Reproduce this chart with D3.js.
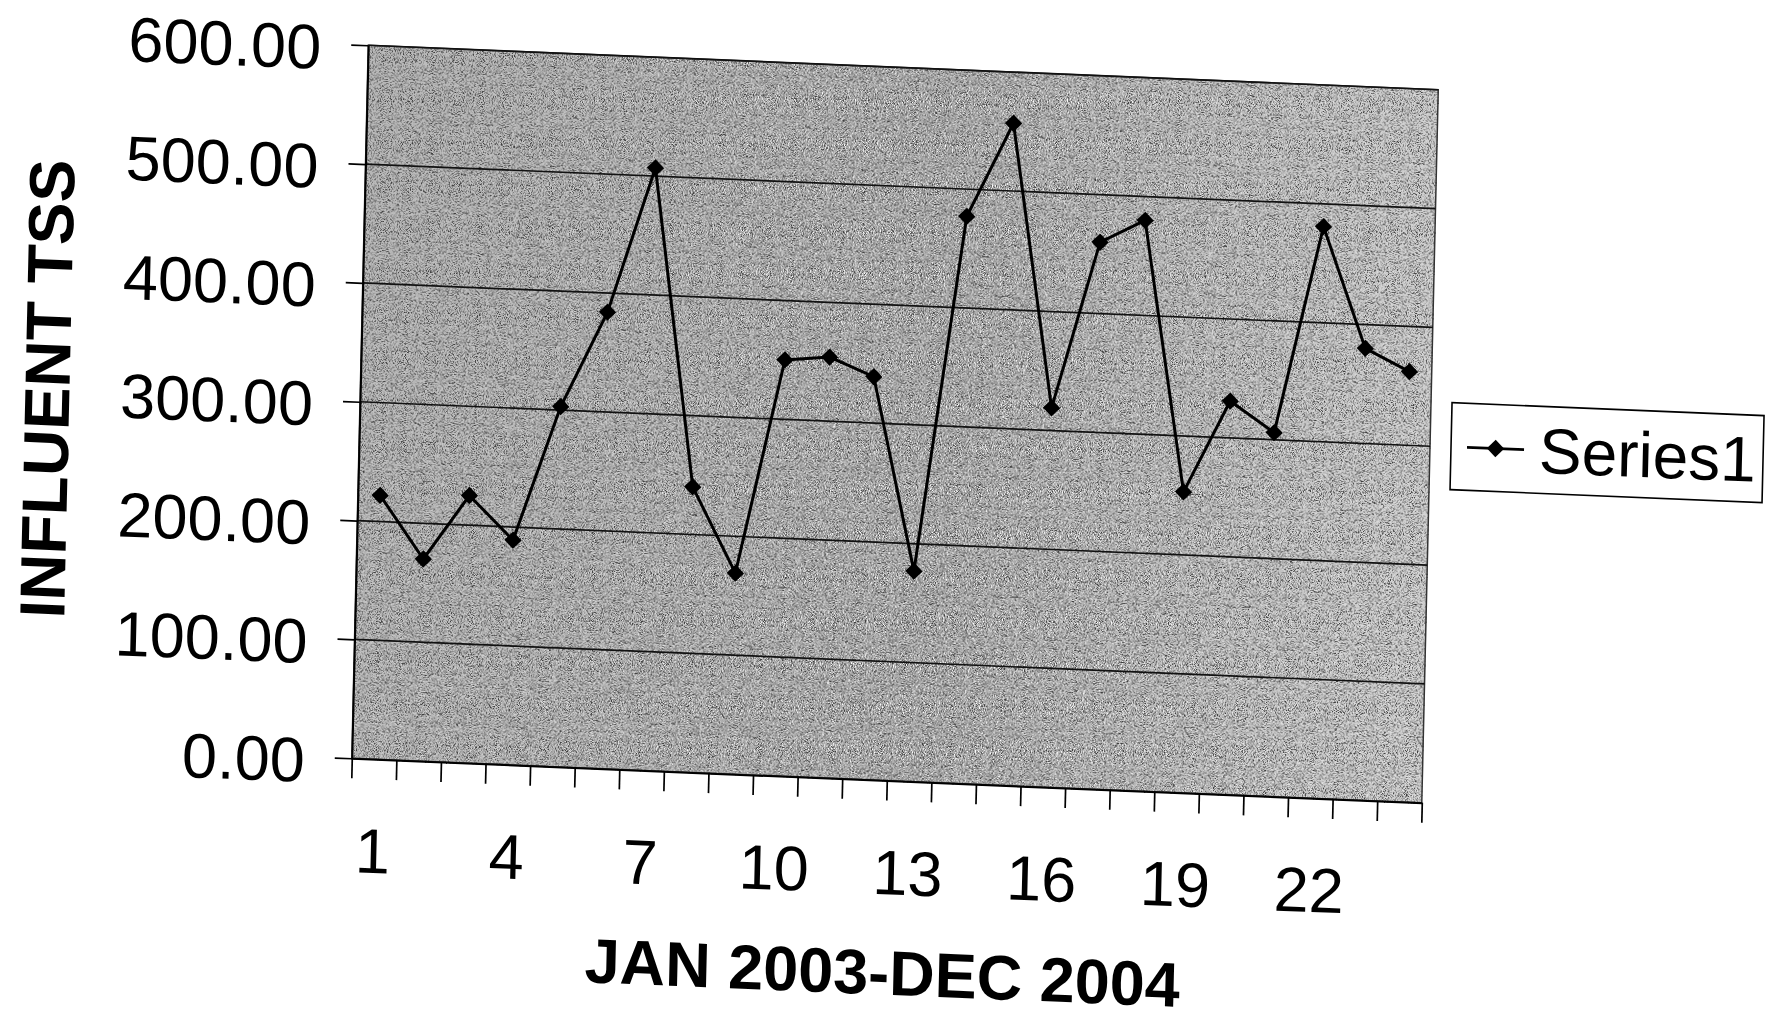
<!DOCTYPE html>
<html>
<head>
<meta charset="utf-8">
<script src="https://cdn.jsdelivr.net/npm/d3@7/dist/d3.min.js"></script>
<style>
  html, body { margin: 0; padding: 0; background: #ffffff; }
  svg { display: block; }
  text { font-family: "Liberation Sans", Arial, Helvetica, sans-serif; fill: #000; }
</style>
</head>
<body>
<svg id="chart" width="1766" height="1022"></svg>
<script>
// ---- data ----
const months = [1, 2, 3, 4, 5, 6, 7, 8, 9, 10, 11, 12, 13, 14, 15, 16, 17, 18, 19, 20, 21, 22, 23, 24];
const influentTSS = [222, 170, 225, 189, 303, 384, 507, 240, 169, 350, 354, 339, 177, 477, 557, 319, 460, 480, 253, 331, 306, 481, 380, 362];
const xTickLabels = [1, 4, 7, 10, 13, 16, 19, 22];
const yTickValues = [0, 100, 200, 300, 400, 500, 600];
const seriesName = "Series1";
const xTitle = "JAN 2003-DEC 2004";
const yTitle = "INFLUENT TSS";

// ---- layout ----
const W = 1070, H = 713;
const svg = d3.select("#chart");

const defs = svg.append("defs");
const grad = defs.append("linearGradient").attr("id", "plotShade")
  .attr("x1", 0).attr("y1", 0).attr("x2", 1).attr("y2", 0);
grad.append("stop").attr("offset", "0%").attr("stop-color", "#b4b4b4");
grad.append("stop").attr("offset", "55%").attr("stop-color", "#acacac");
grad.append("stop").attr("offset", "100%").attr("stop-color", "#cccccc");

const fDark = defs.append("filter").attr("id", "grainDark")
  .attr("filterUnits", "objectBoundingBox").attr("x", 0).attr("y", 0).attr("width", 1).attr("height", 1);
fDark.append("feTurbulence").attr("type", "fractalNoise").attr("baseFrequency", 1.1)
  .attr("numOctaves", 1).attr("seed", 7);
fDark.append("feColorMatrix").attr("type", "matrix")
  .attr("values", "0 0 0 0 0.05  0 0 0 0 0.05  0 0 0 0 0.05  4.5 0 0 0 -2.1");

const fLight = defs.append("filter").attr("id", "grainLight")
  .attr("filterUnits", "objectBoundingBox").attr("x", 0).attr("y", 0).attr("width", 1).attr("height", 1);
fLight.append("feTurbulence").attr("type", "fractalNoise").attr("baseFrequency", 1.0)
  .attr("numOctaves", 1).attr("seed", 23);
fLight.append("feColorMatrix").attr("type", "matrix")
  .attr("values", "0 0 0 0 1  0 0 0 0 1  0 0 0 0 1  -4.5 0 0 0 2.3");

// the scanned page is slightly rotated/skewed
const g = svg.append("g").attr("transform", "matrix(1,0.0416,-0.0231,1,368.25,45.25)");

const x = d3.scaleLinear().domain([0.5, 24.5]).range([0, W]);
const y = d3.scaleLinear().domain([0, 600]).range([H, 0]);

// plot area
g.append("rect").attr("x", 0).attr("y", 0).attr("width", W).attr("height", H).attr("fill", "url(#plotShade)");
g.append("rect").attr("x", 0).attr("y", 0).attr("width", W).attr("height", H).attr("filter", "url(#grainLight)");
g.append("rect").attr("x", 0).attr("y", 0).attr("width", W).attr("height", H).attr("filter", "url(#grainDark)");
g.append("rect").attr("x", 0).attr("y", 0).attr("width", W).attr("height", H)
  .attr("fill", "none").attr("stroke", "#333").attr("stroke-width", 1.5);

// gridlines
g.append("g").selectAll("line").data(yTickValues.filter(v => v > 0)).join("line")
  .attr("x1", 0).attr("x2", W)
  .attr("y1", d => y(d)).attr("y2", d => y(d))
  .attr("stroke", "#111").attr("stroke-width", 1.7);

// y axis
const yAxis = g.append("g")
  .call(d3.axisLeft(y).tickValues(yTickValues).tickFormat(d3.format(".2f"))
    .tickSize(17).tickSizeOuter(0).tickPadding(30));
yAxis.selectAll("text").attr("font-size", 63).attr("dy", "0.4em")
  .attr("font-family", "Liberation Sans, Arial, sans-serif").attr("fill", "#000");
yAxis.selectAll("line").attr("stroke", "#000").attr("stroke-width", 1.7);
yAxis.select(".domain").attr("stroke", "#000").attr("stroke-width", 2);

// x axis tick marks at category boundaries
const boundaries = [0.5].concat(months.map(m => m + 0.5));
const xAxis = g.append("g").attr("transform", `translate(0,${H})`)
  .call(d3.axisBottom(x).tickValues(boundaries).tickFormat("").tickSize(20).tickSizeOuter(0));
xAxis.selectAll("line").attr("stroke", "#000").attr("stroke-width", 1.7);
xAxis.select(".domain").attr("stroke", "#000").attr("stroke-width", 2);

// x axis labels every third category
const xLab = g.append("g").attr("transform", `translate(0,${H})`)
  .call(d3.axisBottom(x).tickValues(xTickLabels).tickFormat(d3.format("d")).tickSize(0).tickPadding(69));
xLab.select(".domain").remove();
xLab.selectAll("text").attr("font-size", 63).attr("font-family", "Liberation Sans, Arial, sans-serif").attr("fill", "#000");

// series line
const line = d3.line().x((d, i) => x(months[i])).y(d => y(d));
g.append("path").datum(influentTSS).attr("d", line)
  .attr("fill", "none").attr("stroke", "#000").attr("stroke-width", 3).attr("stroke-linejoin", "miter");

// markers (diamonds)
const diamond = d3.symbol(d3.symbolSquare, 150);
g.append("g").selectAll("path").data(influentTSS).join("path")
  .attr("d", diamond)
  .attr("transform", (d, i) => `translate(${x(months[i])},${y(d)}) rotate(45)`)
  .attr("fill", "#000");

// axis titles
g.append("text").attr("transform", `translate(-313,${H / 2}) rotate(-90)`)
  .attr("text-anchor", "middle").attr("dy", "0.35em")
  .attr("font-size", 64).attr("font-weight", "bold").text(yTitle);
g.append("text").attr("x", W / 2).attr("y", H + 192)
  .attr("text-anchor", "middle").attr("dy", "0.35em")
  .attr("font-size", 63).attr("font-weight", "bold").text(xTitle);

// legend
const leg = g.append("g").attr("transform", "translate(1091,312)");
leg.append("rect").attr("width", 312).attr("height", 87).attr("fill", "#fff")
  .attr("stroke", "#000").attr("stroke-width", 1.6);
leg.append("line").attr("x1", 16).attr("x2", 73).attr("y1", 44).attr("y2", 44)
  .attr("stroke", "#000").attr("stroke-width", 2.8);
leg.append("path").attr("d", diamond).attr("transform", "translate(44.5,44) rotate(45)").attr("fill", "#000");
leg.append("text").attr("x", 88).attr("y", 44).attr("dy", "0.35em")
  .attr("font-size", 64).text(seriesName);
</script>
</body>
</html>
